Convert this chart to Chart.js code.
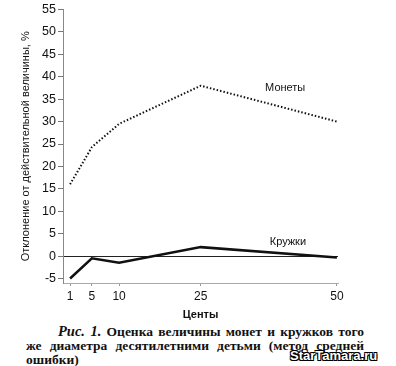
<!DOCTYPE html>
<html>
<head>
<meta charset="utf-8">
<script src="https://cdn.jsdelivr.net/npm/chart.js@4.4.0/dist/chart.umd.min.js"></script>
<style>
  body { margin: 0; background: #fff; width: 396px; height: 366px; overflow: hidden; position: relative; }
  #wrap { position: absolute; left: 0; top: 0; width: 396px; height: 322px; }
  #caption {
    position: absolute; left: 26px; top: 325px; width: 338px;
    font: bold 13.5px "Liberation Serif", serif; line-height: 13.8px; color: #111;
  }
  #caption div { text-align: justify; text-align-last: justify; white-space: nowrap; }
  #caption div.first { padding-left: 32px; }
  #caption div.last { text-align-last: left; }
  #caption i { font-size: 14.5px; }
  #mark {
    position: absolute; left: 290px; top: 348px;
    font: bold 13px "Liberation Sans", sans-serif; color: #fff;
    text-shadow: -1px -1px 0 #000, 1px -1px 0 #000, -1px 1px 0 #000, 1px 1px 0 #000, 0 1px 0 #000, 0 -1px 0 #000;
  }
</style>
</head>
<body>
<div id="wrap"><canvas id="myChart" width="396" height="322"></canvas></div>
<div id="caption">
  <div class="first"><i>Рис. 1.</i> Оценка величины монет и кружков того</div>
  <div>же диаметра десятилетними детьми (метод средней</div>
  <div class="last">ошибки)</div>
</div>
<div id="mark">StarTamara.ru</div>
<script>
// values
var cents = [1, 5, 10, 25, 50];
var coins = [16, 24.3, 29.5, 38, 30];     // Монеты
var mugs = [-5, -0.5, -1.5, 2, -0.3];     // Кружки
var yTicks = [-5, 0, 5, 10, 15, 20, 25, 30, 35, 40, 45, 50, 55];

// series names placed next to the lines (data coords)
var seriesLabels = [
  { text: 'Монеты', x: 40.5, y: 37.6 },
  { text: 'Кружки', x: 41, y: 3.1 }
];

var labelPlugin = {
  id: 'seriesLabels',
  afterDatasetsDraw: function (chart) {
    var ctx = chart.ctx;
    ctx.save();
    ctx.font = '11px "Liberation Sans", Arial, sans-serif';
    ctx.fillStyle = '#111';
    ctx.textAlign = 'center';
    ctx.textBaseline = 'middle';
    seriesLabels.forEach(function (l) {
      ctx.fillText(l.text, chart.scales.x.getPixelForValue(l.x), chart.scales.y.getPixelForValue(l.y));
    });
    ctx.restore();
  }
};

var ctx = document.getElementById('myChart').getContext('2d');
var chart = new Chart(ctx, {
  type: 'line',
  data: {
    datasets: [{
      label: 'Монеты',
      data: cents.map(function (c, i) { return { x: c, y: coins[i] }; }),
      borderColor: '#111',
      borderWidth: 2,
      borderDash: [1.5, 2],
      pointRadius: 0,
      tension: 0
    }, {
      label: 'Кружки',
      data: cents.map(function (c, i) { return { x: c, y: mugs[i] }; }),
      borderColor: '#111',
      borderWidth: 2.5,
      pointRadius: 0,
      tension: 0
    }]
  },
  options: {
    responsive: false,
    animation: false,
    layout: { padding: { top: 7, right: 58, left: 0, bottom: 0 } },
    plugins: { legend: { display: false }, tooltip: { enabled: false } },
    scales: {
      x: {
        type: 'linear',
        min: -0.3,
        max: 50.2,
        afterBuildTicks: function (scale) {
          scale.ticks = cents.map(function (v) { return { value: v }; });
        },
        afterFit: function (scale) { scale.height = 39; },
        grid: { drawOnChartArea: false, tickLength: 3, color: '#999' },
        border: { color: '#aaa' },
        ticks: {
          color: '#111', padding: 3, maxRotation: 0, autoSkip: false,
          font: { family: '"Liberation Sans", Arial, sans-serif', size: 12 }
        },
        title: {
          display: true, text: 'Центы', color: '#111', padding: { top: 2, bottom: 0 },
          font: { family: '"Liberation Sans", Arial, sans-serif', size: 11, weight: 'bold' }
        }
      },
      y: {
        min: -6,
        max: 55,
        afterBuildTicks: function (scale) {
          scale.ticks = yTicks.map(function (v) { return { value: v }; });
        },
        afterFit: function (scale) { scale.width = 63; },
        grid: {
          drawOnChartArea: true, tickLength: 5,
          color: function (c) { return c.tick && c.tick.value === 0 ? '#222' : 'rgba(0,0,0,0)'; },
          tickColor: '#777',
          lineWidth: 1
        },
        border: { color: '#888' },
        ticks: {
          color: '#111', padding: 2,
          font: { family: '"Liberation Sans", Arial, sans-serif', size: 12.5 }
        },
        title: {
          display: true, text: 'Отклонение от действительной величины, %', color: '#111',
          padding: { top: 19, bottom: 0 },
          font: { family: '"Liberation Sans", Arial, sans-serif', size: 11 }
        }
      }
    }
  },
  plugins: [labelPlugin]
});
</script>
</body>
</html>
